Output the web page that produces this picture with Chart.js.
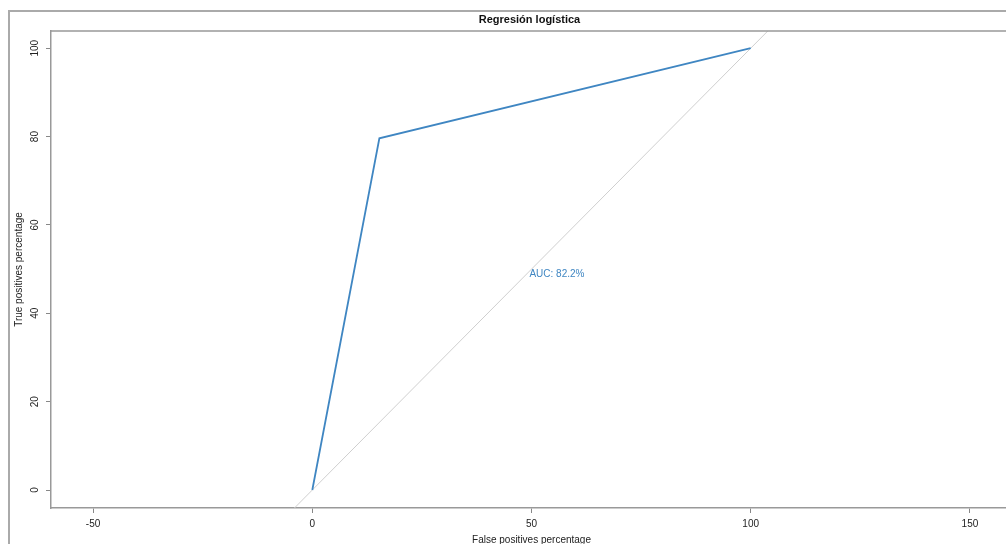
<!DOCTYPE html>
<html>
<head>
<meta charset="utf-8">
<title>Regresión logística</title>
<script src="https://cdn.jsdelivr.net/npm/chart.js"></script>
<style>
  html, body { margin: 0; padding: 0; background: #fff; overflow: hidden; }
  #wrap { position: absolute; left: 0; top: 0; width: 1020px; height: 560px; }
</style>
</head>
<body>
<div id="wrap"><canvas id="rocChart" width="1020" height="560"></canvas></div>
<script>
// ROC curve data (percentages)
const fpr = [0, 15.3, 100];
const tpr = [0, 79.6, 100];
const diagonal = [-10, 110];
const xTicks = [-50, 0, 50, 100, 150];
const yTicks = [0, 20, 40, 60, 80, 100];
const aucLabel = "AUC: 82.2%";
const aucPos = [55.8, 48.9];

const FONT = '"Liberation Sans", Arial, sans-serif';
const rocBlue = '#3f86c2';

// extra drawing: frame, box, rotated y labels, title, auc text
const rocDecor = {
  id: 'rocDecor',
  beforeDraw(chart) {
    const ctx = chart.ctx;
    ctx.save();
    ctx.strokeStyle = '#aaa';
    ctx.lineWidth = 2;
    ctx.strokeRect(9, 11, 1100, 600);
    ctx.restore();
  },
  afterDraw(chart) {
    const ctx = chart.ctx;
    const area = chart.chartArea;
    const yScale = chart.scales.y;
    const xScale = chart.scales.x;
    ctx.save();

    // top + right edge of plot box
    ctx.strokeStyle = '#999';
    ctx.lineWidth = 1.5;
    ctx.beginPath();
    ctx.moveTo(area.left, area.top);
    ctx.lineTo(area.right, area.top);
    ctx.lineTo(area.right, area.bottom);
    ctx.stroke();

    // y tick labels, rotated like R
    ctx.fillStyle = '#222';
    ctx.font = '10px ' + FONT;
    ctx.textAlign = 'center';
    ctx.textBaseline = 'middle';
    yScale.ticks.forEach(t => {
      const y = yScale.getPixelForValue(t.value);
      ctx.save();
      ctx.translate(35, y);
      ctx.rotate(-Math.PI / 2);
      ctx.fillText(t.label, 0, 0);
      ctx.restore();
    });

    // main title
    ctx.fillStyle = '#111';
    ctx.font = 'bold 11px ' + FONT;
    ctx.fillText('Regresión logística', (area.left + area.right) / 2 - 2, 20);

    // AUC
    ctx.fillStyle = rocBlue;
    ctx.font = '10px ' + FONT;
    ctx.fillText(aucLabel, xScale.getPixelForValue(aucPos[0]), yScale.getPixelForValue(aucPos[1]));

    ctx.restore();
  }
};

const ctx = document.getElementById('rocChart').getContext('2d');

new Chart(ctx, {
  type: 'scatter',
  data: {
    datasets: [
      {
        label: 'ROC',
        data: fpr.map((v, i) => ({ x: v, y: tpr[i] })),
        showLine: true,
        borderColor: rocBlue,
        borderWidth: 1.8,
        pointRadius: 0,
        fill: false
      },
      {
        label: 'diagonal',
        data: diagonal.map(v => ({ x: v, y: v })),
        showLine: true,
        borderColor: '#cfcfcf',
        borderWidth: 1,
        pointRadius: 0,
        fill: false
      }
    ]
  },
  options: {
    responsive: false,
    animation: false,
    devicePixelRatio: 1,
    layout: { padding: { left: 9, top: 31, right: 8, bottom: 12 } },
    plugins: {
      legend: { display: false },
      tooltip: { enabled: false },
      title: { display: false }
    },
    scales: {
      x: {
        type: 'linear',
        min: -59.6,
        max: 159.6,
        afterBuildTicks: s => { s.ticks = xTicks.map(v => ({ value: v })); },
        afterFit: s => { s.height = 40; },
        ticks: {
          font: { family: FONT, size: 10 },
          color: '#222',
          padding: 5,
          maxRotation: 0,
          autoSkip: false
        },
        grid: { drawOnChartArea: false, drawTicks: true, tickLength: 5, color: '#888' },
        border: { display: true, color: '#999', width: 1.5 },
        title: {
          display: true,
          text: 'False positives percentage',
          font: { family: FONT, size: 10 },
          color: '#222',
          padding: { top: 0, bottom: 2 }
        }
      },
      y: {
        type: 'linear',
        min: -4.07,
        max: 103.9,
        afterBuildTicks: s => { s.ticks = yTicks.map(v => ({ value: v })); },
        afterFit: s => { s.width = 42; },
        ticks: { display: false },
        grid: { drawOnChartArea: false, drawTicks: true, tickLength: 5, color: '#888' },
        border: { display: true, color: '#999', width: 1.5 },
        title: {
          display: true,
          text: 'True positives percentage',
          font: { family: FONT, size: 10 },
          color: '#222',
          padding: { top: 4, bottom: 0 }
        }
      }
    }
  },
  plugins: [rocDecor]
});
</script>
</body>
</html>
